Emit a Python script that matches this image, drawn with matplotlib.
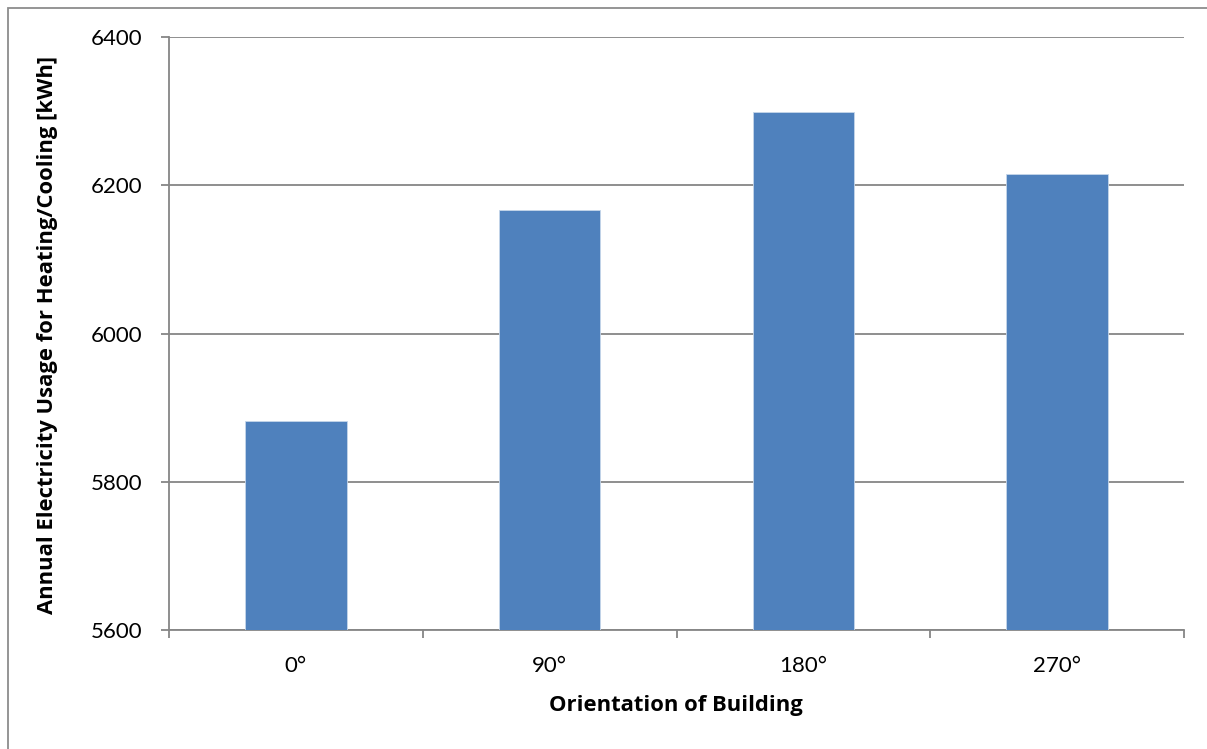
import matplotlib
matplotlib.use("Agg")
import matplotlib.pyplot as plt
from matplotlib.patches import Rectangle

categories = ["0°", "90°", "180°", "270°"]
values = [5882, 6167, 6299, 6215]
yticks = [5600, 5800, 6000, 6200, 6400]

plt.rcParams['font.family'] = ['Lato', 'DejaVu Sans']

W, H = 1207, 749
fig = plt.figure(figsize=(W/100, H/100), dpi=100)
fig.patch.set_facecolor('white')

# outer chart border
fig.add_artist(Rectangle((8/W, -0.1), 1.2, 1 - 8/H + 0.1, transform=fig.transFigure,
                         fill=False, edgecolor='#8c8c8c', linewidth=1.3))

ax = fig.add_axes([169/W, 1 - 630/H, (1184-169)/W, (630-37)/H])
gray = '#868686'
x = range(len(categories))
ax.bar(x, values, width=0.4, color='#4F81BD', edgecolor='#c6d6ea', linewidth=0.6, zorder=3)
ax.set_xlim(-0.5, len(categories) - 0.5)
ax.set_ylim(5600, 6400)
ax.set_yticks(yticks)
ax.set_yticklabels([str(v) for v in yticks], fontsize=16)
ax.set_xticks(list(x))
ax.set_xticklabels(categories, fontsize=16)
ax.set_xticks([i - 0.5 for i in range(len(categories) + 1)], minor=True)
ax.tick_params(axis='x', which='major', length=0, pad=19)
ax.tick_params(axis='x', which='minor', length=6, width=1.3, color=gray)
ax.tick_params(axis='y', length=6, width=1.3, color=gray, pad=13)
ax.yaxis.grid(True, color=gray, linewidth=1.3, zorder=0)
ax.set_axisbelow(True)
for s in ['top', 'right']:
    ax.spines[s].set_visible(False)
for s in ['left', 'bottom']:
    ax.spines[s].set_color(gray)
    ax.spines[s].set_linewidth(1.3)
ax.set_xlabel("Orientation of Building", fontsize=15.8, fontweight='bold',
              family=['Open Sans', 'DejaVu Sans'])
ax.set_ylabel("Annual Electricity Usage for Heating/Cooling [kWh]", fontsize=15.8,
              fontweight='bold', family=['Open Sans', 'DejaVu Sans'])
ax.xaxis.set_label_coords((676-169)/(1184-169), -(705-630)/(630-37))
ax.yaxis.set_label_coords(-(169-48)/(1184-169), (630-335)/(630-37))
ax.xaxis.label.set_va('center')
ax.yaxis.label.set_va('center')

fig.savefig("out.png", dpi=100)
